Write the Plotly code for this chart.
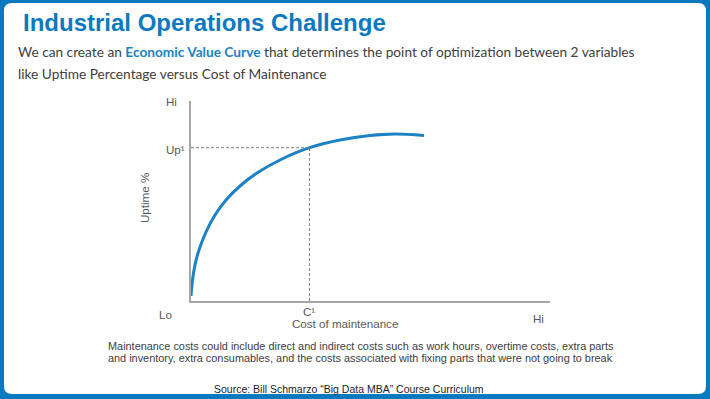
import plotly.graph_objects as go

# ---- data ----
cost = [0, 0.42, 1.11, 2.23, 4.18, 6.69, 9.75, 13.65, 18.38, 24.79, 33.0, 41.5, 49.9, 56.8, 64.9]
uptime = [2.5, 10.5, 18.0, 25.5, 34.5, 43.0, 50.5, 57.5, 64.0, 70.5, 76.65, 80.5, 82.75, 83.5, 82.75]
c1_value = 33.0
up1_value = 76.65
axis_ticks = ["Lo", "Hi"]

W, H = 710, 399
L, R, T, B = 191, 160, 101, 98
PW, PH = W - L - R, H - T - B


def px(x):
    return (x - L) / PW


def py(y):
    return (H - B - y) / PH


BLUE = "#0b79c0"
GRAY = "#595959"
TXT = "#404040"

fig = go.Figure()
fig.add_trace(go.Scatter(
    x=cost, y=uptime, mode="lines",
    line=dict(color="#1a82c5", width=3, shape="spline", smoothing=1.0),
    hoverinfo="skip", showlegend=False,
))

# frame: white rounded panel on blue background
x0, x1, y0, y1 = px(4), px(706), py(3), py(394)
rx, ry = 8 / PW, 8 / PH
path = (f"M {x0+rx},{y0} L {x1-rx},{y0} Q {x1},{y0} {x1},{y0-ry} "
        f"L {x1},{y1+ry} Q {x1},{y1} {x1-rx},{y1} L {x0+rx},{y1} "
        f"Q {x0},{y1} {x0},{y1+ry} L {x0},{y0-ry} Q {x0},{y0} {x0+rx},{y0} Z")
shapes = [
    dict(type="path", path=path, xref="paper", yref="paper",
         fillcolor="white", line=dict(width=0), layer="below"),
    dict(type="line", xref="x", yref="y", x0=0, x1=c1_value, y0=up1_value, y1=up1_value,
         line=dict(color="#7f7f7f", width=1, dash="3px,2px")),
    dict(type="line", xref="x", yref="y", x0=c1_value, x1=c1_value, y0=0, y1=up1_value,
         line=dict(color="#7f7f7f", width=1, dash="3px,2px")),
]

AX = dict(family="Liberation Sans, Arial, sans-serif", size=11.6, color=GRAY)
NOTE = dict(family="Liberation Sans, Arial, sans-serif", size=10.9, color=TXT)
SUB = dict(family="Lato, sans-serif", size=13.7, color=TXT)
ann = [
    dict(text="<b>Industrial Operations Challenge</b>", x=px(21), y=py(22),
         xanchor="left", yanchor="middle",
         font=dict(family="Liberation Sans, Arial, sans-serif", size=24, color=BLUE)),
    dict(text=("We can create an <b><span style='color:#1a82c5'>Economic Value Curve</span></b> "
               "that determines the point of optimization between 2 variables"),
         x=px(16), y=py(52), xanchor="left", yanchor="middle", font=SUB),
    dict(text="like Uptime Percentage versus Cost of Maintenance",
         x=px(16), y=py(73), xanchor="left", yanchor="middle", font=SUB),
    dict(text="Hi", x=px(171), y=py(101), xanchor="center", yanchor="middle", font=AX),
    dict(text="Up¹", x=px(175), y=py(149), xanchor="center", yanchor="middle", font=AX),
    dict(text="C¹", x=c1_value, xref="x", y=py(311), xanchor="center", yanchor="middle", font=AX),
    dict(text=axis_ticks[0], x=px(165), y=py(314), xanchor="center", yanchor="middle", font=AX),
    dict(text=axis_ticks[1], x=px(538), y=py(318), xanchor="center", yanchor="middle", font=AX),
    dict(text="Cost of maintenance", x=px(345), y=py(323), xanchor="center", yanchor="middle", font=AX),
    dict(text="Uptime %", x=px(144), y=py(198), xanchor="center", yanchor="middle",
         textangle=-90, font=AX),
    dict(text="Maintenance costs could include direct and indirect costs such as work hours, overtime costs, extra parts",
         x=px(106), y=py(346), xanchor="left", yanchor="middle", font=NOTE),
    dict(text="and inventory, extra consumables, and the costs associated with fixing parts that were not going to break",
         x=px(106), y=py(358), xanchor="left", yanchor="middle", font=NOTE),
    dict(text="Source: Bill Schmarzo “Big Data MBA” Course Curriculum",
         x=px(349), y=py(389), xanchor="center", yanchor="middle",
         font=dict(family="Liberation Sans, Arial, sans-serif", size=10.5, color="#222222")),
]
for a in ann:
    a.setdefault("xref", "paper")
    a.setdefault("yref", "paper")
    a["showarrow"] = False

fig.update_layout(
    width=W, height=H,
    margin=dict(l=L, r=R, t=T, b=B, pad=0),
    paper_bgcolor=BLUE, plot_bgcolor="rgba(0,0,0,0)",
    shapes=shapes, annotations=ann,
    xaxis=dict(range=[0, 100], showgrid=False, zeroline=False, showticklabels=False,
               showline=True, linecolor="#a6a6a6", linewidth=1.5, ticks=""),
    yaxis=dict(range=[0, 100], showgrid=False, zeroline=False, showticklabels=False,
               showline=True, linecolor="#a6a6a6", linewidth=1.5, ticks=""),
)

fig.write_html("out.html", config={"displayModeBar": False},
               post_script="document.body.style.margin='0';document.body.style.overflow='hidden';")
